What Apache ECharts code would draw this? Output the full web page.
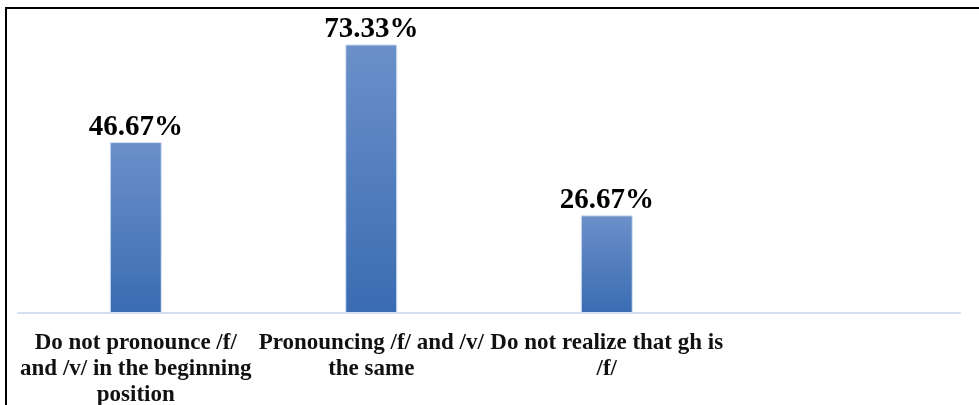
<!DOCTYPE html>
<html>
<head>
<meta charset="utf-8">
<script src="https://cdn.jsdelivr.net/npm/echarts@6/dist/echarts.min.js"></script>
<style>
html,body{margin:0;padding:0;background:#fff;}
#chart{width:979px;height:405px;}
</style>
</head>
<body>
<div id="chart"></div>
<script>
const categories = [
  "Do not pronounce /f/\nand /v/ in the beginning\nposition",
  "Pronouncing /f/ and /v/\nthe same",
  "Do not realize that gh is\n/f/",
  ""
];
const values = [46.67, 73.33, 26.67, null];

const serif = '"Liberation Serif", "Times New Roman", "DejaVu Serif", serif';
const chart = echarts.init(document.getElementById('chart'));
chart.setOption({
  animation: false,
  backgroundColor: '#ffffff',
  graphic: [{
    type: 'rect',
    shape: { x: 6, y: 8, width: 1000, height: 420 },
    style: { fill: 'none', stroke: '#000', lineWidth: 2 },
    silent: true
  }],
  grid: { left: 18, right: 19, top: 20, bottom: 92, containLabel: false, outerBoundsMode: 'none' },
  xAxis: {
    type: 'category',
    data: categories,
    axisLine: { show: true, lineStyle: { color: '#d3e0f2', width: 2 } },
    axisTick: { show: false },
    axisLabel: {
      interval: 0,
      margin: 17,
      color: '#111',
      fontFamily: serif,
      fontWeight: 'bold',
      fontSize: 23,
      lineHeight: 26
    }
  },
  yAxis: {
    type: 'value',
    min: 0,
    max: 80,
    show: false,
    splitLine: { show: false }
  },
  series: [{
    type: 'bar',
    data: values,
    barWidth: 52,
    itemStyle: {
      color: new echarts.graphic.LinearGradient(0, 0, 0, 1, [
        { offset: 0, color: '#6b90c9' },
        { offset: 1, color: '#3a6cb2' }
      ]),
      borderColor: '#d6e2f3',
      borderWidth: 1
    },
    label: {
      show: true,
      position: 'top',
      distance: 0,
      formatter: p => p.value.toFixed(2) + '%',
      color: '#000',
      fontFamily: serif,
      fontWeight: 'bold',
      fontSize: 29
    }
  }]
});
</script>
</body>
</html>
